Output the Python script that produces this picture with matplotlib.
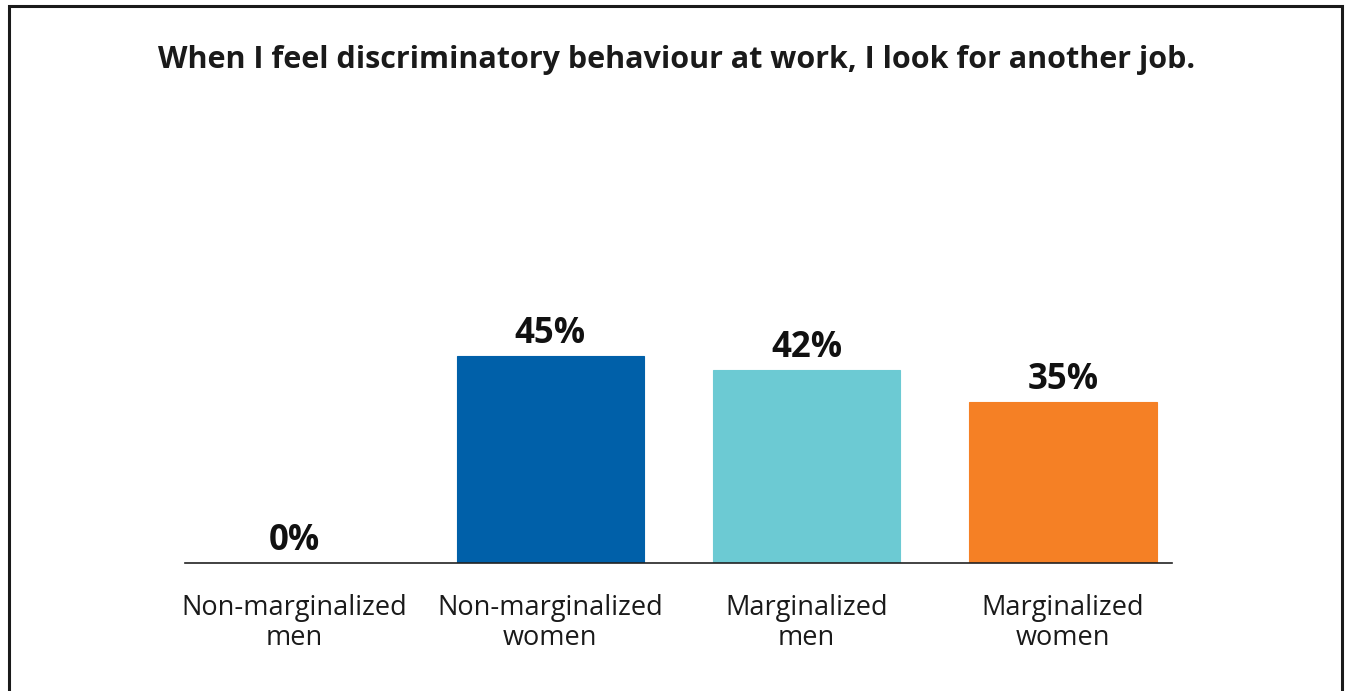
import matplotlib.pyplot as plt
from matplotlib.patches import Rectangle

categories = ['Non-marginalized\nmen', 'Non-marginalized\nwomen',
              'Marginalized\nmen', 'Marginalized\nwomen']
values = [0, 45, 42, 35]
colors = ['#3f9c93', '#0060a9', '#6ccad3', '#f58025']
title = 'When I feel discriminatory behaviour at work, I look for another job.'

plt.rcParams['font.family'] = ['Open Sans', 'DejaVu Sans']

fig = plt.figure(figsize=(13.53, 6.91), dpi=100)
ax = fig.add_axes([185 / 1353, 1 - 563 / 691, 987 / 1353, 414 / 691])

x = list(range(len(values)))
bars = ax.bar(x, values, width=0.73, color=colors, edgecolor=colors, linewidth=0.8)
for b, v in zip(bars, values):
    ax.annotate(f'{v}%', (b.get_x() + b.get_width() / 2, v),
                xytext=(0, 3), textcoords='offset points',
                ha='center', va='bottom', fontsize=25, fontweight='bold', color='#111111')

ax.set_xlim(-0.425, 3.425)
ax.set_ylim(0, 90)
for s in ['top', 'right', 'left']:
    ax.spines[s].set_visible(False)
ax.spines['bottom'].set_color('#222222')
ax.spines['bottom'].set_linewidth(1.2)
ax.set_yticks([])
ax.set_xticks(x)
ax.set_xticklabels(categories, fontsize=19.5, color='#1a1a1a', linespacing=1.1)
ax.tick_params(axis='x', length=0, pad=22)

fig.text(0.5, 1 - 60 / 691, title, ha='center', va='center',
         fontsize=22, fontweight='bold', color='#1a1a1a')

# frame around the whole graphic, open at the bottom edge
fig.patches.append(Rectangle((9 / 1353, -0.05), 1333 / 1353, 1.05 - 6 / 691,
                             transform=fig.transFigure, fill=False,
                             edgecolor='#1a1a1a', linewidth=2.2))

fig.savefig('out.png', dpi=100)
